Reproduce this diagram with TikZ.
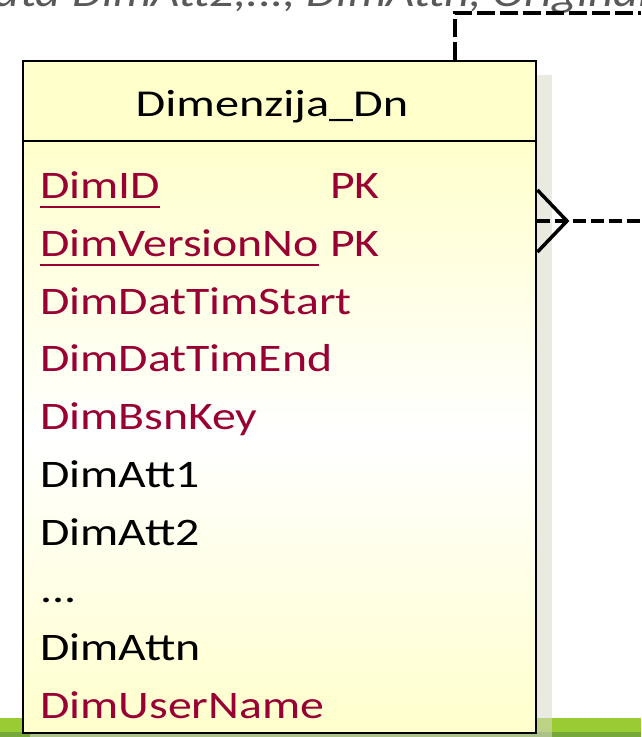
\documentclass[tikz,border=0pt]{standalone}
\usepackage{fontspec}
\setmainfont{Carlito}
\usetikzlibrary{calc}
\definecolor{keyred}{HTML}{990033}
\definecolor{boxyel}{HTML}{FFFFCC}
\definecolor{grn}{HTML}{99CC33}
\definecolor{grndk}{HTML}{76A83C}
\definecolor{shad}{HTML}{D9D9C9}
\definecolor{topgray}{HTML}{595959}
\newcommand{\sx}[1]{\scalebox{1.225}[1]{#1}}
\newcommand{\sxt}[1]{\scalebox{1.27}[1]{#1}}
\newcommand{\sxg}[1]{\scalebox{1.19}[1]{#1}}
\begin{document}
\begin{tikzpicture}[x=1pt,y=-1pt,
  rowtxt/.style={anchor=base west,inner sep=0pt,font=\fontsize{39}{39}\selectfont},
  keytxt/.style={rowtxt,text=keyred},
  boxline/.style={draw=black,line width=2.4pt},
  uline/.style={keyred,line width=2.5pt},
  relline/.style={line width=3.5pt,line cap=butt},
  topdash/.style={line width=3.5pt,dash pattern=on 18pt off 5pt},
  reldash/.style={line width=3.5pt,dash pattern=on 13pt off 5pt}]
\useasboundingbox (0,0) rectangle (641,737);
\clip (0,0) rectangle (641,737);
% top cut text
\node[anchor=base west,inner sep=0pt,text=topgray,font=\fontsize{41}{41}\selectfont\itshape] (t2) at (72,6) {\sxg{DimAtt2,..., DimAttn, Original}};
\node[anchor=base east,inner sep=0pt,text=topgray,font=\fontsize{41}{41}\selectfont\itshape] (t1) at (61,6) {\sxg{data}};
% green bar
\fill[grn] (0,718) rectangle (641,737);
\fill[grndk] (0,732) rectangle (641,737);
% shadow
\fill[shad,opacity=0.55] (30,75) rectangle (552,747);
% box
\node[boxline,fill=boxyel,anchor=north west,inner sep=0pt,minimum width=513pt,minimum height=80pt] (hdr) at (22,60) {};
\node[boxline,top color=boxyel,bottom color=boxyel,middle color=white,anchor=north west,inner sep=0pt,minimum width=513pt,minimum height=592pt] (body) at (22,140) {};
\node[anchor=base,inner sep=0pt,font=\fontsize{38}{38}\selectfont] (title) at (272,116) {\sxt{Dimenzija\_Dn}};
% rows
\node[keytxt] (r1) at (40,198) {\sx{DimID}};
\node[keytxt] (pk1) at (330,198) {\sx{PK}};
\node[keytxt] (r2) at (40,256) {\sx{DimVersionNo}};
\node[keytxt] (pk2) at (330,256) {\sx{PK}};
\node[keytxt] (r3) at (40,314) {\sx{DimDatTimStart}};
\node[keytxt] (r4) at (40,371) {\sx{DimDatTimEnd}};
\node[keytxt] (r5) at (40,429) {\sx{DimBsnKey}};
\node[rowtxt] (r6) at (40,487) {\sx{DimAtt1}};
\node[rowtxt] (r7) at (40,545) {\sx{DimAtt2}};
\node[rowtxt] (r8) at (40,602) {\sx{...}};
\node[rowtxt] (r9) at (40,660) {\sx{DimAttn}};
\node[keytxt] (r10) at (40,718) {\sx{DimUserName}};
\draw[uline] ($(r1.base west)+(0,9)$) -- ($(r1.base east)+(0,9)$);
\draw[uline] ($(r2.base west)+(0,9)$) -- ($(r2.base east)+(0,9)$);
% relationship to top
\coordinate (c1) at (455,13);
\coordinate (c2) at (641,13);
\draw[topdash] ($(hdr.north west)+(433,0)$) -- (c1) -- (c2);
% crow's foot
\coordinate (tip) at (567,221);
\coordinate (rend) at (641,221);
\draw[relline] ($(body.north east)+(0,50)$) -- (tip) -- ($(body.north east)+(0,112)$);
\draw[reldash] (body.east |- tip) -- (rend);
\end{tikzpicture}
\end{document}
